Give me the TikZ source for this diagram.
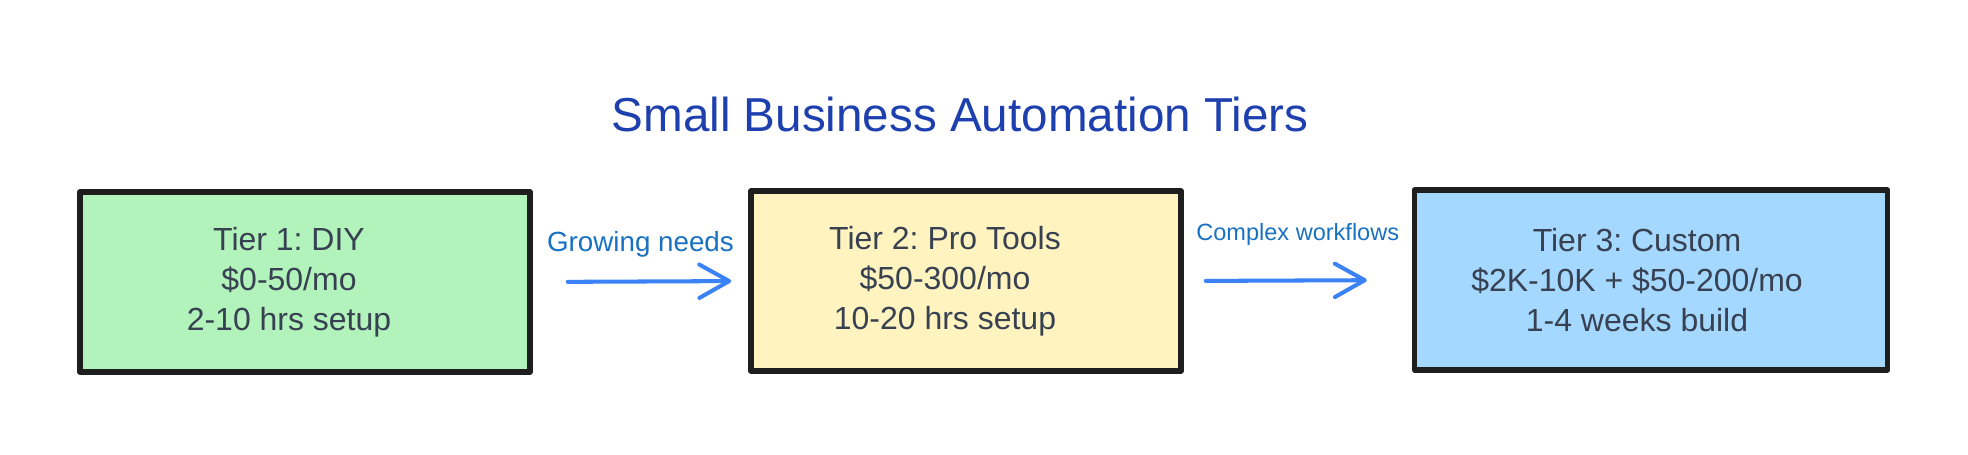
\documentclass[tikz,border=0pt]{standalone}
\usepackage{fontspec}
\setmainfont{Liberation Sans}
\usepackage{xcolor}
\usepackage{tikz}
\usetikzlibrary{arrows.meta,positioning}
\frenchspacing
\definecolor{titleblue}{RGB}{30,64,175}
\definecolor{inkblack}{RGB}{30,30,30}
\definecolor{slatetext}{RGB}{55,65,81}
\definecolor{arrowblue}{RGB}{59,130,246}
\definecolor{labelblue}{RGB}{25,113,194}
\definecolor{tiergreen}{RGB}{178,242,187}
\definecolor{tieryellow}{RGB}{255,243,191}
\definecolor{tierblue}{RGB}{165,216,255}
\tikzset{
    block/.style={rectangle, draw=inkblack, line width=3.2pt, line join=round, minimum height=3.6cm},
    blocktext/.style={text=slatetext, align=center, font=\fontsize{18.2}{22.8}\selectfont},
    line/.style={draw=arrowblue, line width=2.3pt, line cap=round, -{Straight Barb[length=17pt,width=19pt,round]}},
    linelabel/.style={text=labelblue}
}

\begin{document}
\begin{tikzpicture}[x=0.02cm, y=-0.02cm]
    \useasboundingbox (0,0) rectangle (1968,454);

    % Title
    \node [text=titleblue, font=\fontsize{27.1}{32}\selectfont] (title) at (960,114) {Small Business Automation Tiers};

    % Tiers
    \node [block, fill=tiergreen, minimum width=9cm] (tier1) at (305,282) {};
    \node [block, fill=tieryellow, minimum width=8.6cm] (tier2) at (966,281) {};
    \node [block, fill=tierblue, minimum width=9.46cm] (tier3) at (1651,280) {};

    \node [blocktext] (tier1text) at ([xshift=-0.32cm]tier1.center) {Tier 1: DIY\\\$0-50/mo\\2-10 hrs setup};
    \node [blocktext] (tier2text) at ([xshift=-0.42cm]tier2.center) {Tier 2: Pro Tools\\\$50-300/mo\\10-20 hrs setup};
    \node [blocktext] (tier3text) at ([xshift=-0.28cm]tier3.center) {Tier 3: Custom\\\$2K-10K + \$50-200/mo\\1-4 weeks build};

    % Upgrade paths
    \path [line, shorten <=0.7cm, shorten >=0.34cm] (tier1.east) -- node [linelabel, above=0.32cm, font=\fontsize{15.8}{19}\selectfont] (needs) {Growing needs} (tier2.west);
    \path [line, shorten <=0.44cm, shorten >=0.9cm] (tier2.east) -- node [linelabel, above=0.55cm, font=\fontsize{13.4}{16}\selectfont] (workflows) {Complex workflows} (tier3.west);
\end{tikzpicture}
\end{document}
